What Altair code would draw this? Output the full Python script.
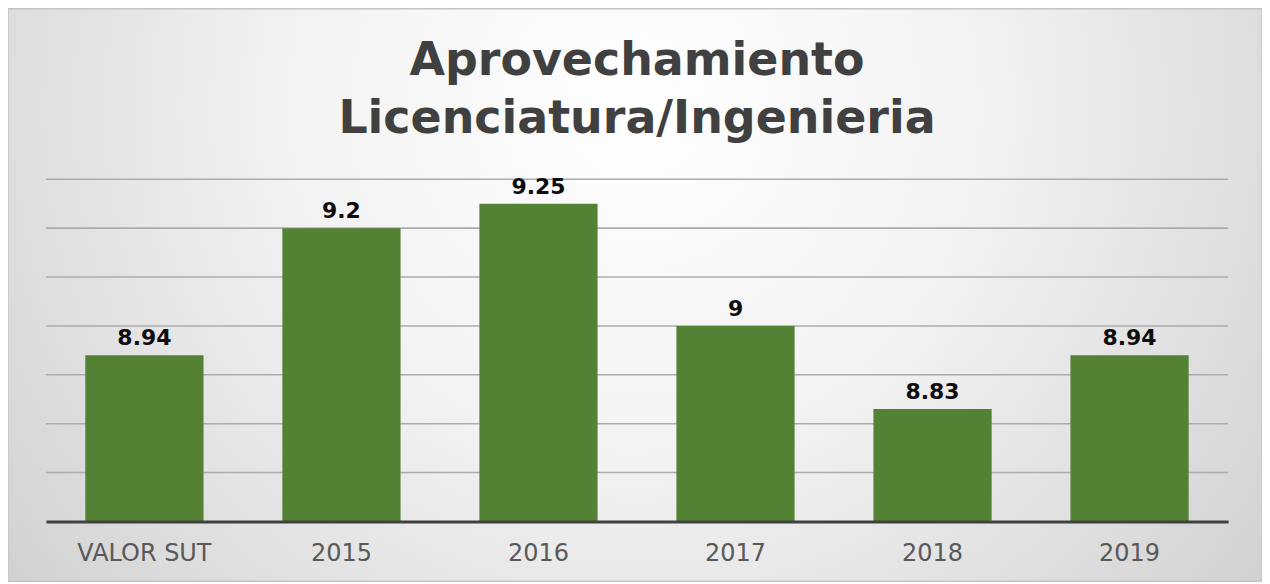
import altair as alt
import pandas as pd

categories = ["VALOR SUT", "2015", "2016", "2017", "2018", "2019"]
values = [8.94, 9.2, 9.25, 9.0, 8.83, 8.94]
labels = ["8.94", "9.2", "9.25", "9", "8.83", "8.94"]
title_lines = ["Aprovechamiento", "Licenciatura/Ingenieria"]
y_ticks = [8.7, 8.8, 8.9, 9.0, 9.1, 9.2, 9.3]
y_domain = [8.6, 9.3]

df = pd.DataFrame({"cat": categories, "val": values, "label": labels})
grid_df = pd.DataFrame({"tick": y_ticks})

W, H = 1185, 343
PAD = {"left": 38, "top": 171, "right": 34, "bottom": 60}

x_enc = alt.X(
    "cat:N",
    sort=categories,
    scale=alt.Scale(paddingInner=0.4, paddingOuter=0.2),
    axis=alt.Axis(
        title=None, labelAngle=0, labelFont="DejaVu Sans", labelFontSize=24,
        labelColor="#595959", labelPadding=20, ticks=False, tickSize=0,
        domain=True, domainColor="#404040", domainWidth=3, grid=False, zindex=1,
    ),
)
y_scale = alt.Scale(domain=y_domain, zero=False, nice=False)

background = alt.Chart(alt.Data(values=[{}])).mark_rect(
    color=alt.Gradient(
        gradient="radial",
        stops=[
            alt.GradientStop(offset=0, color="#ffffff"),
            alt.GradientStop(offset=0.35, color="#f2f2f2"),
            alt.GradientStop(offset=0.7, color="#d8d8d8"),
            alt.GradientStop(offset=1, color="#c0c0c0"),
        ],
        x1=0.5, y1=0.35, r1=0, x2=0.5, y2=0.35, r2=0.8,
    ),
    stroke="#c4c4c4",
    strokeWidth=1.5,
).encode(
    x=alt.value(-PAD["left"]),
    x2=alt.value(W + PAD["right"]),
    y=alt.value(-PAD["top"]),
    y2=alt.value(H + PAD["bottom"]),
)

grid = alt.Chart(grid_df).mark_rule(color="#acacac", strokeWidth=1.6).encode(
    y=alt.Y("tick:Q", scale=y_scale, axis=None)
)

bars = alt.Chart(df).mark_bar(color="#548235").encode(
    x=x_enc,
    y=alt.Y("val:Q", scale=y_scale, axis=None),
    y2=alt.Y2(datum=y_domain[0]),
)

texts = alt.Chart(df).mark_text(
    font="DejaVu Sans", fontWeight="bold", fontSize=22, color="#0d0d0d",
    baseline="alphabetic", dy=-10,
).encode(
    x=alt.X("cat:N", sort=categories),
    y=alt.Y("val:Q", scale=y_scale, axis=None),
    text="label:N",
)

title = alt.Chart(alt.Data(values=[{}])).mark_text(
    text=title_lines, lineHeight=59, fontSize=46, fontWeight="bold",
    font="DejaVu Sans", color="#404040", align="center", baseline="alphabetic",
).encode(x=alt.value(W / 2), y=alt.value(-105))

chart = alt.layer(background, grid, bars, texts, title).properties(
    width=W, height=H, padding=PAD,
    autosize=alt.AutoSizeParams(type="none"),
    background="white",
).configure_view(stroke=None)

chart.save("out.html", embed_options={"renderer": "svg", "actions": False})
